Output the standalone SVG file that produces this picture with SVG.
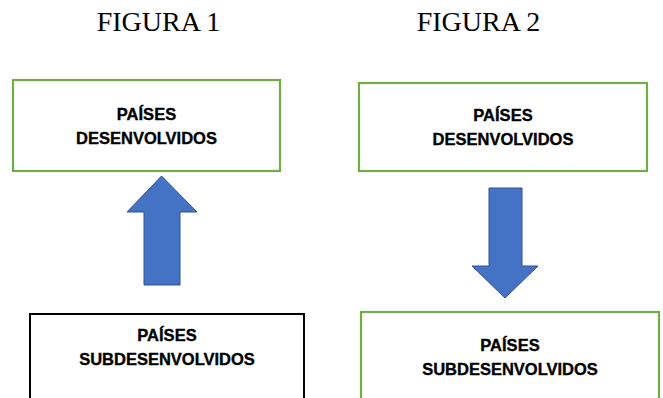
<svg xmlns="http://www.w3.org/2000/svg" width="663" height="398" viewBox="0 0 663 398">
<style>
.title{font-family:"Liberation Serif","Times New Roman",serif;font-size:28px;fill:#000;text-anchor:middle}
.lbl{font-family:"Liberation Sans",Arial,sans-serif;font-weight:bold;font-size:16.5px;fill:#000;stroke:#000;stroke-width:0.35;text-anchor:middle}
.green{fill:#fff;stroke:#70AD47;stroke-width:2.2}
.black{fill:#fff;stroke:#000;stroke-width:2}
.arrow{fill:#4472C4;stroke:#2F528F;stroke-width:1}
</style>
<rect width="663" height="398" fill="#fff"/>
<text class="title" x="158.5" y="31">FIGURA 1</text>
<text class="title" x="478.5" y="31">FIGURA 2</text>
<g id="fig1-desenvolvidos">
<rect class="green" x="13" y="80" width="267" height="91"/>
<text class="lbl" x="146.5" y="120">PAÍSES</text>
<text class="lbl" x="146.5" y="144">DESENVOLVIDOS</text>
</g>
<g id="fig1-subdesenvolvidos">
<rect class="black" x="30" y="314" width="274" height="100"/>
<text class="lbl" x="167" y="340.5">PAÍSES</text>
<text class="lbl" x="167" y="365">SUBDESENVOLVIDOS</text>
</g>
<g id="fig2-desenvolvidos">
<rect class="green" x="359" y="83" width="288" height="88"/>
<text class="lbl" x="503" y="120.5">PAÍSES</text>
<text class="lbl" x="503" y="145">DESENVOLVIDOS</text>
</g>
<g id="fig2-subdesenvolvidos">
<rect class="green" x="361" y="312" width="298" height="100"/>
<text class="lbl" x="510" y="351">PAÍSES</text>
<text class="lbl" x="510" y="374.5">SUBDESENVOLVIDOS</text>
</g>
<g id="connectors">
<polygon class="arrow" points="161.5,176 197,212 180,212 180,285 144,285 144,212 127,212"/>
<polygon class="arrow" points="489,188 522,188 522,266 538,266 505,298 472,266 489,266"/>
</g>
</svg>
